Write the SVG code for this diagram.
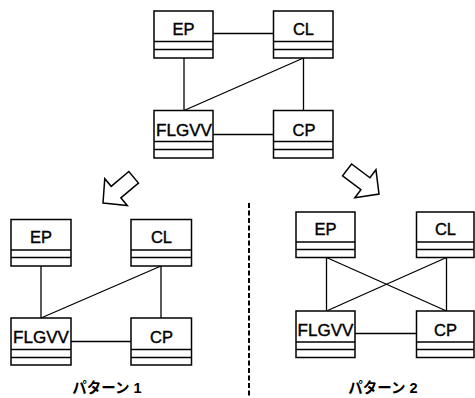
<svg xmlns="http://www.w3.org/2000/svg" width="475" height="398" viewBox="0 0 475 398">
<defs>
<style>
.box{fill:#fff;stroke:#000;stroke-width:1.5}
.div{stroke:#000;stroke-width:1.7;fill:none}
.lbl{font-family:"Liberation Sans",Arial,sans-serif;font-size:16.5px;text-anchor:middle;fill:#000;stroke:#000;stroke-width:0.4}
.con{stroke:#000;stroke-width:1.3;fill:none}
.arr{fill:#fff;stroke:#000;stroke-width:1.5;stroke-linejoin:miter}
.cap{font-family:"Liberation Sans","Noto Sans CJK JP",sans-serif;font-size:14.5px;font-weight:bold;text-anchor:middle;fill:#000}
</style>
<polygon id="blk" points="0,0 -17,-17.5 -17,-7.5 -40,-7.5 -40,7.5 -17,7.5 -17,17.5"/>
</defs>
<g id="connectors">
<line class="con" x1="213" y1="33.5" x2="273.5" y2="33.5"/>
<line class="con" x1="184" y1="58" x2="184" y2="110.5"/>
<line class="con" x1="303.5" y1="58" x2="303.5" y2="110.5"/>
<line class="con" x1="303.5" y1="58" x2="184" y2="110.5"/>
<line class="con" x1="213" y1="134.5" x2="273.5" y2="134.5"/>
<line class="con" x1="41" y1="266" x2="41" y2="318"/>
<line class="con" x1="161" y1="266" x2="161" y2="318"/>
<line class="con" x1="161" y1="266" x2="41" y2="318"/>
<line class="con" x1="71" y1="341.5" x2="131" y2="341.5"/>
<line class="con" x1="326.5" y1="257.5" x2="326.5" y2="311"/>
<line class="con" x1="446.5" y1="257.5" x2="446.5" y2="311"/>
<line class="con" x1="326.5" y1="257.5" x2="446.5" y2="311"/>
<line class="con" x1="446.5" y1="257.5" x2="326.5" y2="311"/>
<line class="con" x1="355" y1="333.5" x2="416.5" y2="333.5"/>
</g>
<g id="top-EP"><rect class="box" x="154" y="11" width="59" height="47"/><line class="div" x1="154" y1="41.5" x2="213" y2="41.5"/><line class="div" x1="154" y1="49.5" x2="213" y2="49.5"/><text class="lbl" x="183.5" y="35">EP</text></g>
<g id="top-CL"><rect class="box" x="273.5" y="11" width="59.5" height="47"/><line class="div" x1="273.5" y1="41.5" x2="333" y2="41.5"/><line class="div" x1="273.5" y1="49.5" x2="333" y2="49.5"/><text class="lbl" x="303.5" y="35">CL</text></g>
<g id="top-FLGVV"><rect class="box" x="154" y="110.5" width="59" height="47.5"/><line class="div" x1="154" y1="141.5" x2="213" y2="141.5"/><line class="div" x1="154" y1="149.5" x2="213" y2="149.5"/><text class="lbl" x="184" y="135.5" textLength="56" lengthAdjust="spacingAndGlyphs">FLGVV</text></g>
<g id="top-CP"><rect class="box" x="273.5" y="110.5" width="59.5" height="47.5"/><line class="div" x1="273.5" y1="141.5" x2="333" y2="141.5"/><line class="div" x1="273.5" y1="149.5" x2="333" y2="149.5"/><text class="lbl" x="304" y="135.5">CP</text></g>
<g id="p1-EP"><rect class="box" x="11" y="219.5" width="60" height="46.5"/><line class="div" x1="11" y1="250" x2="71" y2="250"/><line class="div" x1="11" y1="257.5" x2="71" y2="257.5"/><text class="lbl" x="41" y="243">EP</text></g>
<g id="p1-CL"><rect class="box" x="131" y="219.5" width="60.5" height="46.5"/><line class="div" x1="131" y1="250" x2="191.5" y2="250"/><line class="div" x1="131" y1="257.5" x2="191.5" y2="257.5"/><text class="lbl" x="161.5" y="243">CL</text></g>
<g id="p1-FLGVV"><rect class="box" x="11" y="318" width="60" height="47"/><line class="div" x1="11" y1="349.5" x2="71" y2="349.5"/><line class="div" x1="11" y1="357.5" x2="71" y2="357.5"/><text class="lbl" x="41" y="342.5" textLength="56" lengthAdjust="spacingAndGlyphs">FLGVV</text></g>
<g id="p1-CP"><rect class="box" x="131" y="318" width="60.5" height="47"/><line class="div" x1="131" y1="349.5" x2="191.5" y2="349.5"/><line class="div" x1="131" y1="357.5" x2="191.5" y2="357.5"/><text class="lbl" x="161.5" y="342.5">CP</text></g>
<g id="p2-EP"><rect class="box" x="296" y="212" width="59" height="45.5"/><line class="div" x1="296" y1="242" x2="355" y2="242"/><line class="div" x1="296" y1="249.5" x2="355" y2="249.5"/><text class="lbl" x="325.5" y="235">EP</text></g>
<g id="p2-CL"><rect class="box" x="416.5" y="212" width="57.5" height="45.5"/><line class="div" x1="416.5" y1="242" x2="474" y2="242"/><line class="div" x1="416.5" y1="249.5" x2="474" y2="249.5"/><text class="lbl" x="445.5" y="235">CL</text></g>
<g id="p2-FLGVV"><rect class="box" x="296" y="311" width="59" height="46.5"/><line class="div" x1="296" y1="342" x2="355" y2="342"/><line class="div" x1="296" y1="349.5" x2="355" y2="349.5"/><text class="lbl" x="325.5" y="335.5" textLength="56" lengthAdjust="spacingAndGlyphs">FLGVV</text></g>
<g id="p2-CP"><rect class="box" x="416.5" y="311" width="57.5" height="46.5"/><line class="div" x1="416.5" y1="342" x2="474" y2="342"/><line class="div" x1="416.5" y1="349.5" x2="474" y2="349.5"/><text class="lbl" x="445.5" y="335.5">CP</text></g>
<g id="arrow-left"><use href="#blk" class="arr" transform="translate(103,203) rotate(140)"/></g>
<g id="arrow-right"><use href="#blk" class="arr" transform="translate(379,194) rotate(37)"/></g>
<g id="divider"><line x1="249" y1="203" x2="249" y2="398" stroke="#000" stroke-width="2" stroke-dasharray="5,2.5"/></g>
<g id="caption-1"><text class="cap" x="107" y="393">パターン 1</text></g>
<g id="caption-2"><text class="cap" x="383" y="393">パターン 2</text></g>
</svg>
